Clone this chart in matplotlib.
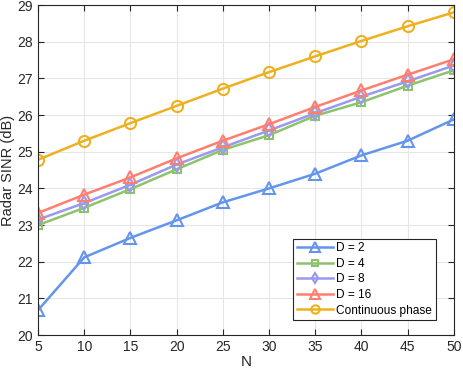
import matplotlib
matplotlib.use("Agg")
import matplotlib.pyplot as plt

N = [5, 10, 15, 20, 25, 30, 35, 40, 45, 50]
d2 = [20.68, 22.12, 22.65, 23.13, 23.62, 24.0, 24.4, 24.9, 25.3, 25.88]
d4 = [23.0, 23.47, 23.98, 24.52, 25.05, 25.45, 25.98, 26.35, 26.8, 27.22]
d8 = [23.15, 23.6, 24.1, 24.65, 25.12, 25.58, 26.05, 26.5, 26.92, 27.35]
d16 = [23.33, 23.83, 24.3, 24.82, 25.3, 25.75, 26.22, 26.67, 27.1, 27.52]
cont = [24.78, 25.3, 25.78, 26.25, 26.72, 27.17, 27.6, 28.02, 28.42, 28.8]
labels = ["D = 2", "D = 4", "D = 8", "D = 16", "Continuous phase"]

plt.rcParams['font.family'] = ['Liberation Sans', 'DejaVu Sans']
fig = plt.figure(figsize=(4.64, 3.74), dpi=100)
ax = fig.add_axes([0.082, 0.104, 0.896, 0.8826])

styles = [
    (d2, '#6495ED', '^', 9),
    (d4, '#8CC36C', 's', 6),
    (d8, '#9999F0', 'd', 7),
    (d16, '#FF7F6F', '^', 9),
    (cont, '#EDB120', 'o', 8),
]
for (ys, c, m, ms), lab in zip(styles, labels):
    ax.plot(N, ys, color=c, marker=m, markersize=ms, markerfacecolor='none',
            markeredgewidth=1.5, linewidth=1.8, label=lab)

ax.set_xlim(5, 50)
ax.set_ylim(20, 29)
ax.set_xticks(range(5, 51, 5))
ax.set_yticks(range(20, 30))
ax.grid(True, color='#e6e6e6', linewidth=0.8)
ax.set_axisbelow(True)
ax.tick_params(direction='in', top=True, right=True, labelsize=10, colors='#262626', length=4)
for s in ax.spines.values():
    s.set_color('#262626')
    s.set_linewidth(0.8)
ax.set_xlabel('N', fontsize=11, color='#262626', labelpad=1)
ax.set_ylabel('Radar SINR (dB)', fontsize=10.5, color='#262626', labelpad=2)

leg = ax.legend(loc='lower right', bbox_to_anchor=(0.957, 0.045), fontsize=8.6,
                fancybox=False, framealpha=1, edgecolor='#262626',
                handlelength=3.0, borderpad=0.3, labelspacing=0.3,
                handletextpad=0.3, borderaxespad=0, markerscale=0.75)
leg.get_frame().set_linewidth(0.8)

fig.savefig('out.png', dpi=100)
